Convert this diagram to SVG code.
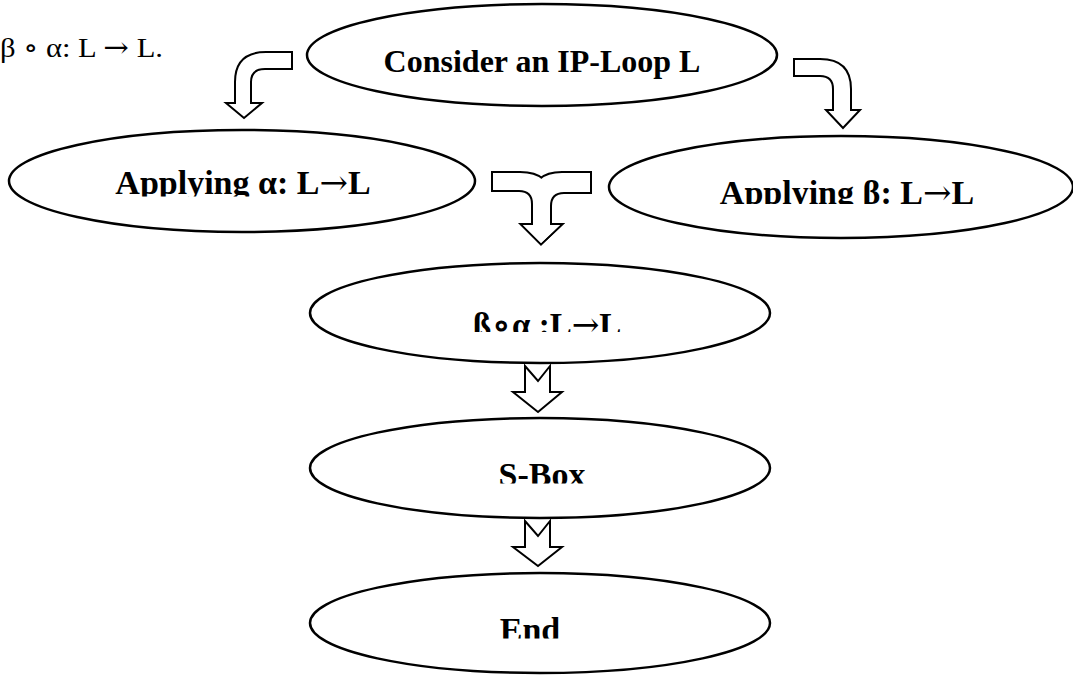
<svg xmlns="http://www.w3.org/2000/svg" width="1073" height="679" viewBox="0 0 1073 679">
  <style>
    .node { fill: #ffffff; stroke: #000000; stroke-width: 2.5; }
    .lbl { font-family: "Liberation Serif", "Times New Roman", serif; font-weight: bold; fill: #000000; text-anchor: middle; }
    .ar { font-family: "DejaVu Serif", serif; font-weight: normal; }
    .arrow { fill: #ffffff; stroke: #000000; stroke-width: 2; stroke-linejoin: miter; }
    .note { font-family: "Liberation Serif", "DejaVu Serif", serif; font-size: 28px; fill: #000000; }
  </style>
  <defs>
    <clipPath id="clipA"><rect x="0" y="0" width="1073" height="196.5"/></clipPath>
    <clipPath id="clipB"><rect x="0" y="0" width="1073" height="204"/></clipPath>
    <clipPath id="clipC"><rect x="0" y="0" width="1073" height="332"/></clipPath>
    <clipPath id="clipS"><rect x="0" y="0" width="1073" height="483.5"/></clipPath>
    <clipPath id="clipE"><rect x="0" y="0" width="1073" height="638.5"/></clipPath>
    <!-- two bent arrows that join into one shaft -->
    <path id="mergeL" d="M493,173 L520,173 Q550,173 550,200 L550,225 L560,225 L541,243 L523,225 L533,225 L533,204 Q533,190 519,190 L493,190 Z"/>
    <path id="mergeR" d="M590,173 L562,173 Q533,173 533,200 L533,225 L523,225 L541,243 L560,225 L550,225 L550,206 Q550,192 564,192 L590,192 Z"/>
  </defs>

  <text class="note" x="0" y="57" textLength="163" lengthAdjust="spacingAndGlyphs">β ∘ α: L <tspan font-family="DejaVu Serif">→</tspan> L.</text>

  <g id="connectors">
    <!-- bend from top node down-left -->
    <path class="arrow" d="M292,52 L266,52 Q235,52 235,82 L235,103 L226,103 L244,118 L262,103 L251,103 L251,82 Q251,69 265,69 L292,69 Z"/>
    <!-- bend from top node down-right -->
    <path class="arrow" d="M794,59 L820,59 Q851,59 851,89 L851,110 L860,110 L843,128 L826,110 L833,110 L833,89 Q833,76 820,76 L794,76 Z"/>
    <!-- merging arrow: thick outline underneath, white fill on top keeps only the outer edge -->
    <g>
      <use href="#mergeL" fill="#000" stroke="#000" stroke-width="4" stroke-linejoin="miter"/>
      <use href="#mergeR" fill="#000" stroke="#000" stroke-width="4" stroke-linejoin="miter"/>
      <use href="#mergeL" fill="#fff"/>
      <use href="#mergeR" fill="#fff"/>
    </g>
    <!-- notched down arrows -->
    <path class="arrow" d="M525,366 L538,381 L550,366 L550,392 L562,392 L538,412 L513,392 L525,392 Z"/>
    <path class="arrow" d="M525,521 L538,536 L550,521 L550,547 L562,547 L538,566 L513,547 L525,547 Z"/>
  </g>

  <g id="node-start">
    <ellipse class="node" cx="542" cy="55" rx="235" ry="51"/>
    <text class="lbl" x="542" y="72" font-size="32">Consider an IP-Loop L</text>
  </g>

  <g id="node-alpha">
    <ellipse class="node" cx="242" cy="181" rx="233" ry="51"/>
    <text class="lbl" x="243" y="194" font-size="34" clip-path="url(#clipA)">Applying α: L<tspan class="ar">→</tspan>L</text>
  </g>

  <g id="node-beta">
    <ellipse class="node" cx="841" cy="187" rx="232" ry="51"/>
    <text class="lbl" x="847" y="204" font-size="34" clip-path="url(#clipB)">Applying β: L<tspan class="ar">→</tspan>L</text>
  </g>

  <g id="node-compose">
    <ellipse class="node" cx="540" cy="313" rx="230" ry="50"/>
    <text class="lbl" x="547" y="336" font-size="33" clip-path="url(#clipC)">ß∘α :L<tspan class="ar">→</tspan>L</text>
  </g>

  <g id="node-sbox">
    <ellipse class="node" cx="540" cy="468" rx="230" ry="50"/>
    <text class="lbl" x="542" y="486" font-size="34" clip-path="url(#clipS)">S-Box</text>
  </g>

  <g id="node-end">
    <ellipse class="node" cx="540" cy="623" rx="230" ry="50"/>
    <text class="lbl" x="530" y="641" font-size="34" clip-path="url(#clipE)">End</text>
  </g>
</svg>
